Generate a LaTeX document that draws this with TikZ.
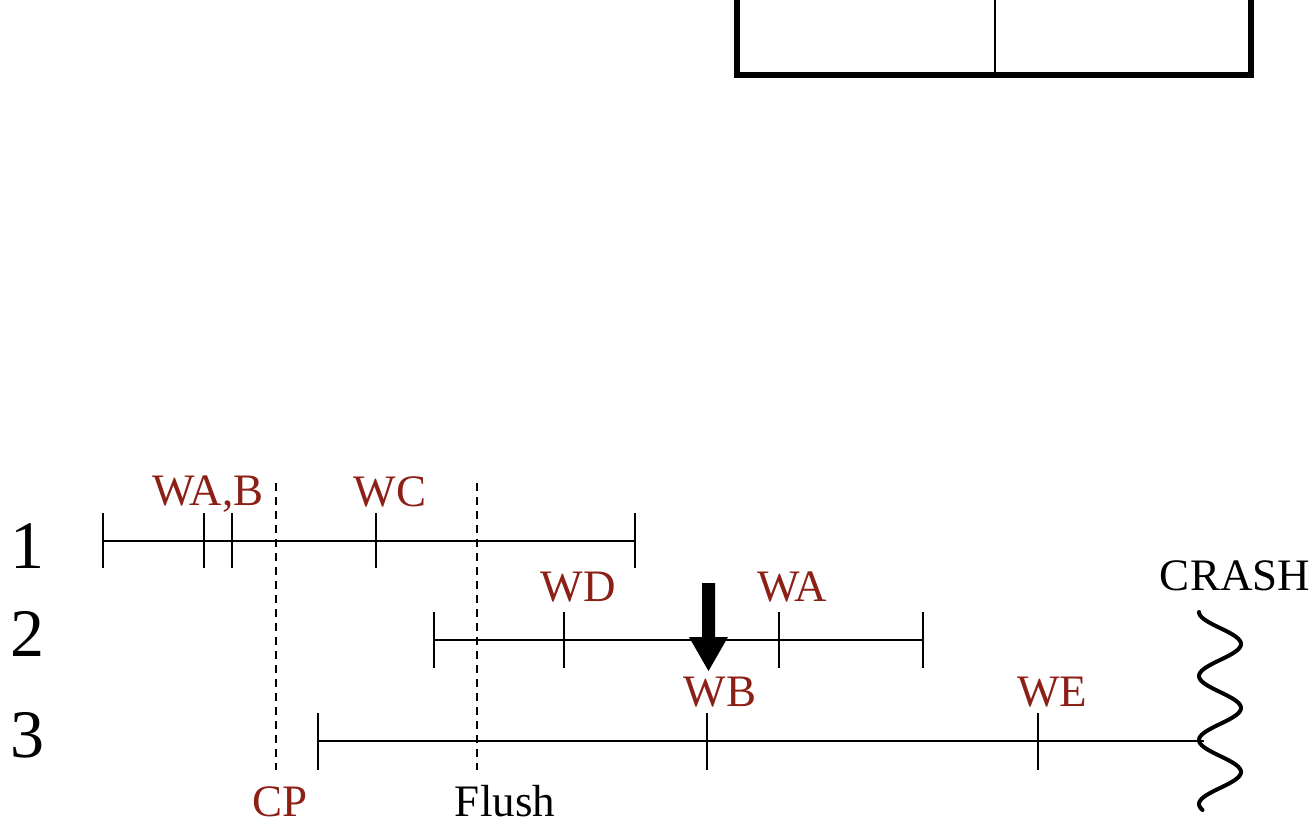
\documentclass[tikz,border=0pt]{standalone}
\usepackage{fontspec}
\setmainfont{Liberation Serif}
\definecolor{wred}{RGB}{140,32,22}
\begin{document}
\begin{tikzpicture}[x=1pt,y=-1pt,
  tl/.style={line width=2pt},
  tk/.style={line width=2pt},
  dsh/.style={line width=1.8pt,dash pattern=on 8pt off 6pt},
  lab/.style={anchor=base,inner sep=0pt,font=\fontsize{45}{50}\selectfont},
  rlab/.style={lab,text=wred},
  num/.style={anchor=base,inner sep=0pt,font=\fontsize{68}{72}\selectfont}]
\useasboundingbox (0,0) rectangle (1312,824);
\clip (0,0) rectangle (1312,824);
% box at top
\draw[line width=6pt] (737,-20) -- (737,75) -- (1251,75) -- (1251,-20);
\draw[line width=2pt] (995,-20) -- (995,75);
% row labels
\node[num] (n1) at (27,568) {1};
\node[num] (n2) at (27,656) {2};
\node[num] (n3) at (27,757) {3};
% dashed lines
\coordinate (cpT) at (276,483); \coordinate (cpB) at (276,770);
\coordinate (flT) at (477,483); \coordinate (flB) at (477,770);
\draw[dsh] (cpT) -- (cpB);
\draw[dsh] (flT) -- (flB);
% row 1
\coordinate (a1) at (103,541); \coordinate (b1) at (635,541);
\draw[tl] (a1) -- (b1);
\foreach \x in {103,204,232,376,635} \draw[tk] (\x,513) -- (\x,568);
\node[rlab] (wab) at (208,505) {WA,B};
\node[rlab] (wc) at (390,506) {WC};
% row 2
\coordinate (a2) at (434,640); \coordinate (b2) at (923,640);
\draw[tl] (a2) -- (b2);
\foreach \x in {434,564,779,923} \draw[tk] (\x,612) -- (\x,668);
\node[rlab] (wd) at (578,601) {WD};
\node[rlab] (wa) at (792,601) {WA};
% arrow
\fill (702,583) -- (715,583) -- (715,637) -- (728,637) -- (708.5,671) -- (689,637) -- (702,637) -- cycle;
% row 3
\coordinate (a3) at (318,741); \coordinate (b3) at (1204,741);
\draw[tl] (a3) -- (b3);
\foreach \x in {318,707,1038} \draw[tk] (\x,713) -- (\x,770);
\node[rlab] (wb) at (720,706) {WB};
\node[rlab] (we) at (1052,706) {WE};
% bottom labels
\node[rlab] (cp) at (280,816) {CP};
\node[lab] (flush) at (505,816) {Flush};
% crash
\node[lab] (crash) at (1235,590) {CRASH};
\draw[line width=4pt,line cap=round] plot[domain=612:810,samples=120,smooth] ({1220-21*cos((\x-612)/64*360)},\x);
\end{tikzpicture}
\end{document}
